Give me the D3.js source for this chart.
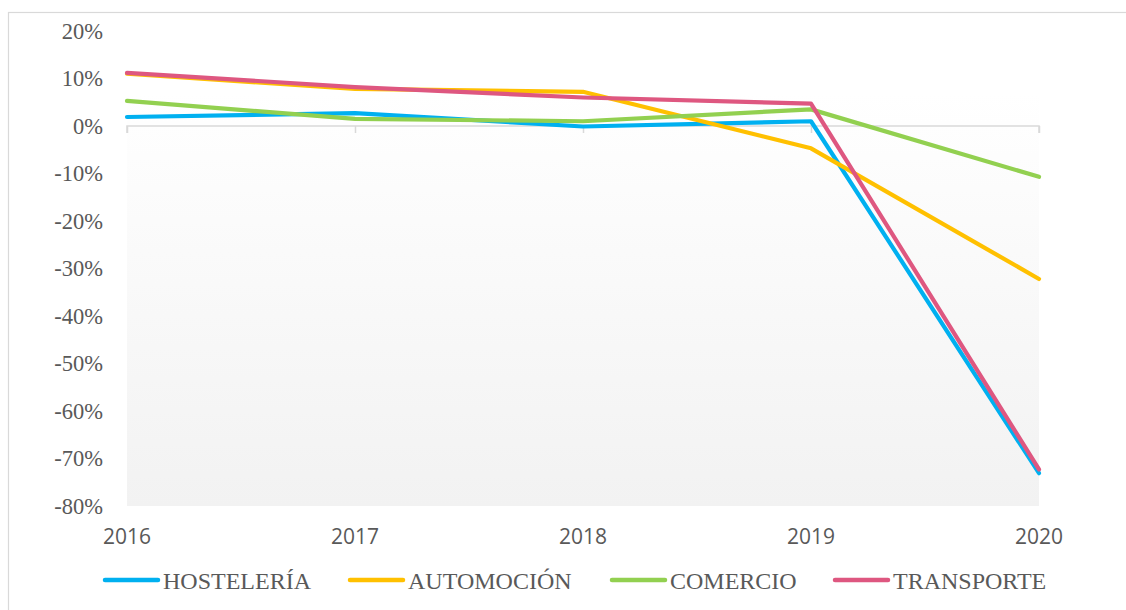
<!DOCTYPE html>
<html><head><meta charset="utf-8">
<script src="https://cdn.jsdelivr.net/npm/d3@7"></script>
<style>body{margin:0;background:#fff}svg{display:block}</style>
</head><body>
<svg id="c" width="1126" height="610"></svg>
<script>
const years = ["2016","2017","2018","2019","2020"];
const hosteleria = [1.9, 2.7, -0.1, 1.0, -73.1];
const automocion = [11.0, 7.8, 7.2, -4.7, -32.2];
const comercio = [5.3, 1.5, 1.0, 3.5, -10.7];
const transporte = [11.2, 8.2, 6.0, 4.7, -72.3];
const seriesNames = ["HOSTELERÍA","AUTOMOCIÓN","COMERCIO","TRANSPORTE"];
const seriesColors = ["#00b0f0","#ffc000","#92d050","#de5780"];
const yTicks = [20,10,0,-10,-20,-30,-40,-50,-60,-70,-80];

const series = [hosteleria, automocion, comercio, transporte].map((v,i)=>({name:seriesNames[i], color:seriesColors[i], values:v}));

const svg = d3.select("#c");
const x = d3.scalePoint().domain(years).range([127,1039]);
const y = d3.scaleLinear().domain([-80,20]).range([506,31]);

// outer border
svg.append("rect").attr("x",8.5).attr("y",12.5).attr("width",1130).attr("height",610)
  .attr("fill","none").attr("stroke","#d9d9d9").attr("stroke-width",1.2);

// gradient plot background
const defs = svg.append("defs");
const g = defs.append("linearGradient").attr("id","bg").attr("x1",0).attr("y1",0).attr("x2",0).attr("y2",1);
g.append("stop").attr("offset","0%").attr("stop-color","#ffffff");
g.append("stop").attr("offset","100%").attr("stop-color","#f2f2f2");
svg.append("rect").attr("x",x("2016")).attr("y",y(7)).attr("width",x("2020")-x("2016"))
  .attr("height",y(-80)-y(7)).attr("fill","url(#bg)");

// y labels
svg.append("g").selectAll("text").data(yTicks).join("text")
  .attr("x",103).attr("y",d=>y(d)).attr("dy","0.35em").attr("text-anchor","end")
  .attr("font-family","'Liberation Serif','Times New Roman',serif").attr("font-size",22.5)
  .attr("fill","#595959").text(d=>d+"%");

// x axis at 0
const ax = d3.axisBottom(x).tickSize(7).tickFormat("");
const axg = svg.append("g").attr("transform",`translate(0,${y(0)})`).call(ax);
axg.select(".domain").attr("stroke","#d9d9d9").attr("stroke-width",1.5).attr("d",`M${x("2016")},7V0H${x("2020")}V7`);
axg.selectAll(".tick line").attr("stroke","#d9d9d9").attr("stroke-width",1.5);

// year labels
svg.append("g").selectAll("text").data(years).join("text")
  .attr("x",d=>x(d)).attr("y",537).attr("dy","0.35em").attr("text-anchor","middle")
  .attr("font-family","'Open Sans',sans-serif").attr("font-size",21)
  .attr("fill","#595959").text(d=>d);

// lines
const line = d3.line().x((d,i)=>x(years[i])).y(d=>y(d));
svg.append("g").selectAll("path").data(series).join("path")
  .attr("d",d=>line(d.values)).attr("fill","none").attr("stroke",d=>d.color)
  .attr("stroke-width",4.2).attr("stroke-linejoin","round").attr("stroke-linecap","round");

// legend
const legX = [105,350,612,835];
const lg = svg.append("g").selectAll("g").data(series).join("g")
  .attr("transform",(d,i)=>`translate(${legX[i]},580)`);
lg.append("line").attr("x1",0).attr("x2",53).attr("y1",0).attr("y2",0)
  .attr("stroke",d=>d.color).attr("stroke-width",4.5).attr("stroke-linecap","round");
lg.append("text").attr("x",58).attr("y",8.5).attr("font-family","'Liberation Serif','Times New Roman',serif")
  .attr("font-size",24).attr("fill","#595959").text(d=>d.name);
</script>
</body></html>
